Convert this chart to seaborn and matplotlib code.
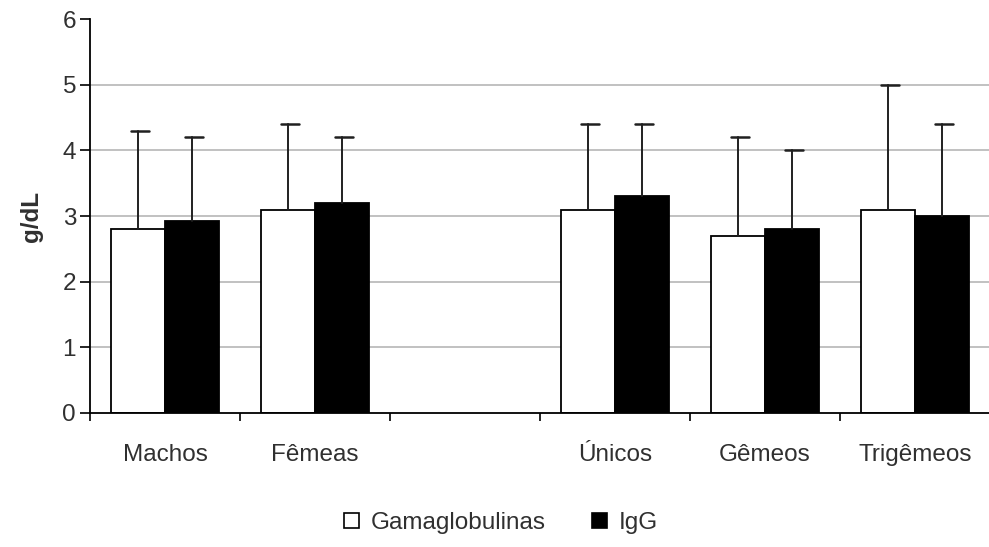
import numpy as np
import pandas as pd
import seaborn as sns
import matplotlib.pyplot as plt
from matplotlib.patches import Rectangle

# dados
grupos = ["Machos", "Fêmeas", " ", "Únicos", "Gêmeos", "Trigêmeos"]
gama = [2.8, 3.1, np.nan, 3.1, 2.7, 3.1]
igg = [2.92, 3.2, np.nan, 3.3, 2.8, 3.0]
gama_top = [4.3, 4.4, np.nan, 4.4, 4.2, 5.0]
igg_top = [4.2, 4.2, np.nan, 4.4, 4.0, 4.4]

series = ["Gamaglobulinas", "IgG"]

df = pd.DataFrame({
    "grupo": grupos * 2,
    "serie": [series[0]] * len(grupos) + [series[1]] * len(grupos),
    "valor": gama + igg,
}).dropna()

sns.set_style("white")
plt.rcParams['font.family'] = ['Liberation Sans', 'DejaVu Sans']
txt = "#303030"
fs = 17.5

fig = plt.figure(figsize=(9.89, 5.47), dpi=100)
ax = fig.add_axes([0.091, 0.245, 0.91, 0.72])

w = 0.72
sns.barplot(data=df, x="grupo", y="valor", hue="serie", order=grupos,
            hue_order=series, palette=["white", "black"], edgecolor="black",
            linewidth=1.3, width=w, errorbar=None, legend=False, ax=ax)

# barras de erro (so para cima)
off = w / 4
for vals, tops, dx in [(gama, gama_top, -off), (igg, igg_top, off)]:
    for i, (v, t) in enumerate(zip(vals, tops)):
        if np.isnan(v):
            continue
        x = i + dx
        ax.plot([x, x], [v, t], color="#202020", lw=1.4, zorder=3)
        ax.plot([x - 0.045, x + 0.073], [t, t], color="#202020", lw=1.8, zorder=3)

ax.set_xlim(-0.5, 5.5)
ax.set_ylim(0, 6)
ax.set_yticks(range(7))
for y in range(1, 6):
    ax.axhline(y, color="#b0b0b0", lw=1.1, zorder=0)

ax.set_xticks(range(len(grupos)))
ax.set_xticklabels(grupos)
ax.set_xticks(np.arange(-0.5, 6, 1), minor=True)
ax.tick_params(axis="x", which="major", length=0, pad=22, labelsize=fs, labelcolor=txt)
ax.tick_params(axis="x", which="minor", direction="out", length=6, width=1.2, color="black", bottom=True)
ax.tick_params(axis="y", direction="out", length=7, width=1.2, color="black", left=True,
               labelsize=fs, labelcolor=txt, pad=3)

ax.set_xlabel("")
ax.set_ylabel("g/dL", fontsize=fs, fontweight="bold", color=txt, labelpad=14)

for s in ["top", "right"]:
    ax.spines[s].set_visible(False)
for s in ["left", "bottom"]:
    ax.spines[s].set_color("black")
    ax.spines[s].set_linewidth(1.3)

handles = [Rectangle((0, 0), 1, 1, facecolor="white", edgecolor="black", lw=1.2),
           Rectangle((0, 0), 1, 1, facecolor="black", edgecolor="black", lw=1.2)]
leg = fig.legend(handles, series, loc="center", bbox_to_anchor=(0.507, 0.044), ncol=2,
                 frameon=False, fontsize=fs, handlelength=0.6, handleheight=0.6,
                 handletextpad=0.5, columnspacing=1.9)
for t in leg.get_texts():
    t.set_color(txt)

fig.savefig("out.png", dpi=100)
